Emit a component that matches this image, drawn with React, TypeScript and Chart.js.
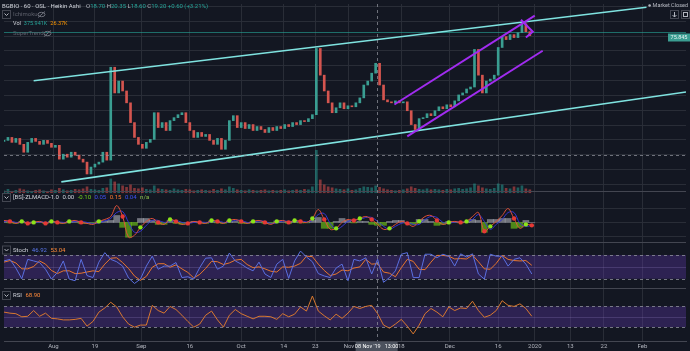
import React, { useEffect, useRef } from "react";
import { Chart, registerables } from "chart.js";

Chart.register(...registerables);

const W = 690;
const H = 351;
const AREA_H = 341;

// ---- price (Heikin Ashi closes, one bar per index) ----
const closes = [
  8.2, 8.5, 8.0, 8.4, 7.8, 7.0, 8.0, 8.4, 8.1, 7.8,
  8.2, 7.9, 7.5, 7.7, 6.3, 6.8, 6.5, 7.0, 6.7, 6.3,
  6.0, 4.8, 5.5, 5.8, 6.0, 7.0, 6.2, 15.6, 13.0, 14.2,
  13.2, 12.0, 10.0, 8.5, 7.8, 7.4, 8.0, 8.3, 11.0, 9.5,
  10.0, 9.2, 10.2, 10.5, 10.8, 11.0, 10.0, 9.2, 8.5, 9.0,
  8.6, 8.8, 8.2, 7.8, 8.4, 7.3, 8.2, 10.2, 10.7, 9.5,
  10.0, 9.4, 9.8, 9.2, 9.6, 9.3, 9.0, 9.5, 9.2, 9.6,
  9.4, 9.8, 9.6, 10.0, 9.8, 10.2, 10.1, 10.4, 10.8, 17.5,
  14.8, 13.2, 12.0, 11.0, 11.5, 12.0, 11.4, 11.7, 11.6, 12.0,
  12.5, 13.8, 14.2, 15.0, 16.0, 13.8, 12.3, 12.1, 12.0, 12.2,
  12.0, 12.1, 11.2, 9.8, 9.3, 10.4, 10.5, 10.9, 10.7, 11.2,
  11.6, 11.4, 11.8, 11.6, 12.2, 12.8, 13.0, 13.4, 13.6, 17.4,
  14.8, 13.0, 14.2, 14.4, 14.8, 17.6, 18.7, 18.4, 18.9, 18.6,
  19.1, 20.0, 19.2, 18.8,
];

// ---- volume (K) ----
const volumes = [
  20, 35, 15, 25, 40, 30, 20, 15, 25, 30,
  20, 15, 30, 25, 45, 30, 20, 25, 35, 30,
  40, 60, 35, 30, 25, 45, 50, 140, 110, 90,
  70, 55, 80, 45, 40, 50, 35, 30, 70, 40,
  35, 30, 25, 40, 30, 25, 35, 30, 20, 25,
  30, 25, 20, 35, 25, 40, 30, 60, 45, 30,
  25, 20, 30, 25, 20, 25, 30, 20, 25, 20,
  25, 30, 20, 25, 30, 25, 35, 30, 60, 430,
  130, 80, 60, 50, 40, 35, 30, 40, 25, 30,
  45, 60, 55, 50, 70, 55, 40, 30, 25, 20,
  25, 30, 40, 60, 45, 35, 30, 40, 30, 35,
  30, 25, 35, 30, 40, 45, 35, 40, 50, 90,
  70, 50, 40, 35, 45, 90, 80, 45, 40, 60,
  50, 70, 40, 30,
];

// ---- oscillators, sampled every 1.5 bars ----
const OSC_STEP = 1.5;

const macdLine = [
  2, 1, -1, 1, -1, 0, 1, -1, 1, 0,
  -1, 1, 2, 0, -1, -2, 1, 3, 6, 17,
  6, -15, -13, -5, 1, 4, 0, -2, 3, 1,
  -2, -1, 1, 0, -1, 2, 1, -1, 2, 3,
  1, -1, 1, 2, 0, -2, 1, 2, 0, 2,
  1, 0, 4, 13, 3, -7, -6, 0, 3, 2,
  4, 6, 3, -2, -7, -6, -2, 1, -1, -4,
  1, 6, 7, 2, -2, 0, 1, 0, 1, 6,
  10, -9, -4, 1, 7, 14, 4, -6, -2, -3,
];

const signalLine = [
  1, 1.5, 0, 0, 0, -0.5, 0.5, 0, 0, 0.5,
  0, 0, 1, 1, 0, -1, -0.5, 1.5, 4, 10,
  11, 0, -10, -9, -3, 2, 2, 0, 1, 2,
  0, -1, 0, 0.5, 0, 0.5, 1.5, 0, 0.5, 2,
  2, 0, 0, 1.5, 1, -1, -0.5, 1.5, 1, 1,
  1.5, 0.5, 2, 8, 9, -1, -7, -4, 1, 2.5,
  3, 5, 5, 1, -4, -7, -4, -1, 0, -2,
  -2, 3, 6, 5, 0, -1, 0.5, 0.5, 0.5, 3,
  8, 1, -7, -2, 3, 10, 10, -1, -4, -3,
];

const stochK = [
  65, 69, 47, 20, 69, 65, 61, 44, 19, 36,
  65, 19, 15, 69, 28, 23, 62, 86, 69, 63,
  52, 22, 8, 19, 52, 77, 44, 52, 52, 61,
  23, 25, 19, 48, 72, 73, 44, 52, 85, 65,
  57, 47, 40, 62, 32, 23, 57, 69, 21, 65,
  90, 75, 63, 33, 27, 23, 47, 57, 15, 69,
  65, 73, 32, 69, 11, 23, 40, 82, 86, 23,
  23, 82, 82, 73, 82, 77, 52, 83, 75, 83,
  32, 19, 82, 77, 77, 52, 69, 73, 57, 32,
];

const stochD = [
  62, 66, 60, 45, 45, 51, 65, 57, 41, 33,
  40, 40, 33, 34, 37, 40, 38, 57, 72, 73,
  61, 46, 27, 16, 26, 49, 58, 58, 49, 55,
  45, 36, 22, 31, 46, 64, 63, 56, 60, 67,
  69, 56, 48, 50, 45, 39, 37, 50, 49, 52,
  59, 77, 76, 57, 41, 28, 32, 42, 40, 47,
  50, 69, 57, 58, 37, 34, 25, 48, 69, 64,
  44, 43, 62, 79, 79, 77, 70, 71, 70, 80,
  63, 45, 44, 59, 79, 69, 66, 65, 66, 54,
];

const rsiValues = [
  59, 57, 56, 50, 51, 62, 51, 57, 47, 46,
  44, 44, 45, 47, 32, 41, 59, 67, 78, 69,
  50, 36, 30, 34, 34, 72, 62, 57, 70, 64,
  53, 41, 30, 36, 53, 61, 44, 30, 53, 64,
  56, 51, 46, 51, 51, 50, 45, 56, 50, 55,
  69, 61, 90, 61, 52, 44, 55, 47, 57, 70,
  66, 70, 72, 56, 34, 28, 36, 45, 32, 17,
  34, 56, 66, 59, 50, 69, 62, 67, 66, 80,
  62, 49, 53, 62, 81, 72, 70, 75, 66, 51,
];

// ---- time axis ----
const X_MAX = 172.5;
const tickPos = [12.5, 23, 34.75, 47, 60, 70.75, 78.75, 87.25, 100.5, 112.75, 125, 134.25, 143.25, 151.75, 161.5];
const tickLabels = ["Aug", "19", "Sep", "16", "Oct", "14", "23", "Nov", "18", "Dec", "16", "2020", "13", "22", "Feb"];

// ---- drawings (bar index, price) ----
const cyanUpper = [{ x: 7.5, y: 14.23 }, { x: 162.5, y: 21.67 }];
const cyanLower = [{ x: 14.5, y: 4.0 }, { x: 172.5, y: 13.1 }];
const purpleUpper = [{ x: 98.75, y: 11.83 }, { x: 134.25, y: 20.83 }];
const purpleLower = [{ x: 102, y: 8.6 }, { x: 136.25, y: 17.27 }];
const purpleMark = [{ x: 130.75, y: 20.4 }, { x: 133.75, y: 19.2 }, { x: 132, y: 18.6 }];
const lastPrice = 19.2;
const crossX = 94.25;
const crossPrice = 6.7;

const BG = "#131722";
const GRID = "rgba(42,46,57,0.95)";
const SEP = "#434651";
const BAND = "rgba(103,58,183,0.32)";
const TEAL = "#26a69a";
const FONT = "Roboto";

function fit(value: number, px: number, perPx: number) {
  return { max: value + px * perPx, min: value - (AREA_H - px) * perPx };
}

function seq(ctx: CanvasRenderingContext2D, x: number, y: number, parts: [string, string][], gap = 0) {
  let cx = x;
  for (const [t, c] of parts) {
    ctx.fillStyle = c;
    ctx.fillText(t, cx, y);
    cx += ctx.measureText(t).width + gap;
  }
  return cx;
}

function chevronBox(ctx: CanvasRenderingContext2D, x: number, y: number) {
  ctx.strokeStyle = "#434651";
  ctx.lineWidth = 1;
  ctx.strokeRect(x + 0.5, y + 0.5, 8, 8);
  ctx.strokeStyle = "#b2b5be";
  ctx.beginPath();
  ctx.moveTo(x + 2.5, y + 3.5);
  ctx.lineTo(x + 4.5, y + 5.5);
  ctx.lineTo(x + 6.5, y + 3.5);
  ctx.stroke();
}

function eyeOff(ctx: CanvasRenderingContext2D, x: number, y: number) {
  ctx.strokeStyle = "#6a6d78";
  ctx.lineWidth = 1;
  ctx.beginPath();
  ctx.ellipse(x, y, 3.5, 2.2, 0, 0, Math.PI * 2);
  ctx.stroke();
  ctx.beginPath();
  ctx.moveTo(x - 3.5, y + 3);
  ctx.lineTo(x + 3.5, y - 3);
  ctx.stroke();
}

const panePlugin = {
  id: "panes",
  beforeDraw(chart: any) {
    const ctx = chart.ctx as CanvasRenderingContext2D;
    ctx.save();
    ctx.fillStyle = BG;
    ctx.fillRect(0, 0, chart.width, chart.height);
    ctx.restore();
  },
  beforeDatasetsDraw(chart: any) {
    const ctx = chart.ctx as CanvasRenderingContext2D;
    const a = chart.chartArea;
    const s = chart.scales;
    ctx.save();
    const hline = (y: number, color: string, dash: number[] = []) => {
      ctx.strokeStyle = color;
      ctx.lineWidth = 1;
      ctx.setLineDash(dash);
      ctx.beginPath();
      ctx.moveTo(a.left, Math.round(y) + 0.5);
      ctx.lineTo(a.right, Math.round(y) + 0.5);
      ctx.stroke();
      ctx.setLineDash([]);
    };
    for (let p = 21.8; p > 3.2; p -= 1.5) hline(s.yMain.getPixelForValue(p), GRID);
    for (const v of [15, 0, -14]) hline(s.yMacd.getPixelForValue(v), GRID);
    const band = (id: string, hi: number, lo: number) => {
      const y1 = s[id].getPixelForValue(hi);
      const y2 = s[id].getPixelForValue(lo);
      ctx.fillStyle = BAND;
      ctx.fillRect(a.left, y1, a.right - a.left, y2 - y1);
      hline(y1, "rgba(150,152,161,0.75)", [3, 3]);
      hline(y2, "rgba(150,152,161,0.75)", [3, 3]);
      hline(s[id].getPixelForValue((hi + lo) / 2), "rgba(150,130,200,0.25)");
    };
    band("yStoch", 80, 20);
    band("yRsi", 70, 30);
    hline(s.yMain.getPixelForValue(lastPrice), "rgba(38,166,154,0.6)");
    ctx.restore();
  },
  afterDatasetsDraw(chart: any) {
    const ctx = chart.ctx as CanvasRenderingContext2D;
    const a = chart.chartArea;
    const s = chart.scales;
    ctx.save();
    ctx.strokeStyle = SEP;
    ctx.lineWidth = 1;
    for (const y of [191.5, 242.5, 288.5]) {
      ctx.beginPath();
      ctx.moveTo(a.left, y);
      ctx.lineTo(a.right, y);
      ctx.stroke();
    }
    ctx.strokeStyle = "rgba(149,152,161,0.7)";
    ctx.setLineDash([3, 3]);
    const cx = Math.round(s.x.getPixelForValue(crossX)) + 0.5;
    ctx.beginPath();
    ctx.moveTo(cx, a.top);
    ctx.lineTo(cx, a.bottom);
    ctx.stroke();
    const cy = Math.round(s.yMain.getPixelForValue(crossPrice)) + 0.5;
    ctx.beginPath();
    ctx.moveTo(a.left, cy);
    ctx.lineTo(a.right, cy);
    ctx.stroke();
    ctx.setLineDash([]);
    ctx.restore();
  },
  afterDraw(chart: any) {
    const ctx = chart.ctx as CanvasRenderingContext2D;
    const s = chart.scales;
    ctx.save();
    ctx.textBaseline = "middle";
    ctx.font = `6px ${FONT}`;
    seq(ctx, 2, 6, [["BGBIO · 60 · OSL · Heikin Ashi", "#d1d4dc"]]);
    seq(ctx, 86, 6, [
      ["O", "#b2b5be"], ["18.70 ", TEAL],
      ["H", "#b2b5be"], ["20.35 ", TEAL],
      ["L", "#b2b5be"], ["18.60 ", TEAL],
      ["C", "#b2b5be"], ["19.20 ", TEAL],
      ["+0.60 (+3.21%)", TEAL],
    ]);
    chevronBox(ctx, 2, 10);
    seq(ctx, 13, 14.5, [["Ichimoku", "#5d606b"]]);
    eyeOff(ctx, 41.5, 14.5);
    ctx.font = `5.5px ${FONT}`;
    seq(ctx, 13, 24, [["Vol", "#d1d4dc"], ["375.941K", TEAL], ["26.37K", "#ff9800"]], 3);
    ctx.font = `6px ${FONT}`;
    seq(ctx, 13, 33.5, [["SuperTrend", "#5d606b"]]);
    eyeOff(ctx, 47.5, 33.5);
    chevronBox(ctx, 2, 193);
    seq(ctx, 13, 197.5, [
      ["[BS]-ZLMACD-1.0", "#d1d4dc"], ["0.00", "#d1d4dc"],
      ["-0.10", "#76d11a"], ["0.05", "#3f51f5"], ["0.15", "#ff7a2e"],
      ["0.04", "#3f51f5"], ["n/a", "#8bc34a"],
    ], 3.5);
    chevronBox(ctx, 2, 245.5);
    seq(ctx, 13, 250, [["Stoch", "#d1d4dc"], ["46.92", "#5b78f0"], ["53.04", "#ff8a3a"]], 3.5);
    chevronBox(ctx, 2, 291);
    seq(ctx, 13, 295.5, [["RSI", "#d1d4dc"], ["68.90", "#ff8a3a"]], 3.5);
    // top right
    ctx.font = `5.5px ${FONT}`;
    ctx.textAlign = "right";
    ctx.fillStyle = "#b2b5be";
    ctx.fillText("Market Closed", 688, 5.5);
    const mw = ctx.measureText("Market Closed").width;
    ctx.beginPath();
    ctx.arc(688 - mw - 3, 5.5, 1.3, 0, Math.PI * 2);
    ctx.fill();
    ctx.textAlign = "left";
    ctx.strokeStyle = "#434651";
    ctx.strokeRect(670.5, 10.5, 8, 8);
    ctx.strokeRect(681.5, 10.5, 8, 8);
    ctx.strokeStyle = "#b2b5be";
    ctx.beginPath();
    ctx.moveTo(674.5, 12); ctx.lineTo(674.5, 17);
    ctx.moveTo(672.5, 15); ctx.lineTo(674.5, 17); ctx.lineTo(676.5, 15);
    ctx.stroke();
    ctx.strokeRect(683.5, 12.5, 4, 4);
    // price label
    const py = 37.5;
    ctx.fillStyle = "#3b9e92";
    ctx.fillRect(668, py - 4, 22, 8);
    ctx.fillStyle = "#e8f5f3";
    ctx.textAlign = "center";
    ctx.fillText("75.845", 679, py);
    // crosshair time label
    const cx = s.x.getPixelForValue(crossX);
    ctx.fillStyle = "#4c525e";
    ctx.fillRect(cx - 21, 342, 42, 9);
    ctx.fillStyle = "#ffffff";
    ctx.font = `5.5px ${FONT}`;
    ctx.fillText("08 Nov '19   13:00", cx, 346.5);
    ctx.restore();
  },
};

export default function App() {
  const ref = useRef<HTMLCanvasElement>(null);
  useEffect(() => {
    document.body.style.margin = "0";
    document.body.style.background = BG;
    const canvas = ref.current!;

    const candleData = closes.map((c, i) => ({ x: i, y: [i > 0 ? closes[i - 1] : c - 0.1, c] }));
    const candleColors = closes.map((c, i) => (i === 0 || c >= closes[i - 1] ? "#3a9e92" : "#d4554f"));
    const volData = volumes.map((v, i) => ({ x: i, y: v }));
    const volColors = closes.map((c, i) =>
      i === 0 || c >= closes[i - 1] ? "rgba(38,166,154,0.5)" : "rgba(239,83,80,0.5)"
    );
    const osc = (arr: number[]) => arr.map((v, i) => ({ x: i * OSC_STEP, y: v }));
    const hist = macdLine.map((m, i) => ({ x: i * OSC_STEP, y: m - signalLine[i] }));
    const dots: { x: number; y: number }[] = [];
    const dotColors: string[] = [];
    for (let i = 1; i < macdLine.length; i++) {
      const d0 = macdLine[i - 1] - signalLine[i - 1];
      const d1 = macdLine[i] - signalLine[i];
      if ((d0 > 0 && d1 <= 0) || (d0 < 0 && d1 >= 0)) {
        dots.push({ x: i * OSC_STEP, y: macdLine[i] });
        dotColors.push(d1 <= 0 ? "#e53935" : "#8be31a");
      }
    }

    const trend = (data: any, color: string, width: number) => ({
      type: "line" as const,
      data,
      yAxisID: "yMain",
      borderColor: color,
      borderWidth: width,
      pointRadius: 0,
      tension: 0,
    });

    const chart = new Chart(canvas, {
      type: "line",
      data: {
        datasets: [
          trend(purpleUpper, "#a12cf0", 2),
          trend(purpleLower, "#a12cf0", 2),
          trend(purpleMark, "#a12cf0", 2),
          trend(cyanUpper, "#7fe3e0", 1.6),
          trend(cyanLower, "#7fe3e0", 1.6),
          {
            type: "bar",
            data: candleData as any,
            yAxisID: "yMain",
            backgroundColor: candleColors,
            barThickness: 2,
            grouped: false,
          } as any,
          {
            type: "bar",
            data: volData,
            yAxisID: "yVol",
            backgroundColor: volColors,
            barThickness: 2,
            grouped: false,
          } as any,
          {
            type: "line",
            data: dots,
            yAxisID: "yMacd",
            showLine: false,
            pointRadius: 2.2,
            pointBorderWidth: 0,
            pointBackgroundColor: dotColors,
          } as any,
          {
            type: "line",
            data: osc(macdLine),
            yAxisID: "yMacd",
            borderColor: "#e0503a",
            borderWidth: 1,
            pointRadius: 0,
            tension: 0.35,
          },
          {
            type: "line",
            data: osc(signalLine),
            yAxisID: "yMacd",
            borderColor: "#3535d0",
            borderWidth: 1,
            pointRadius: 0,
            tension: 0.35,
          },
          {
            type: "bar",
            data: hist,
            yAxisID: "yMacd",
            backgroundColor: hist.map((h) => (h.y >= 0 ? "rgba(190,192,200,0.55)" : "rgba(118,210,20,0.6)")),
            barThickness: 6,
            grouped: false,
          } as any,
          {
            type: "line",
            data: osc(stochK),
            yAxisID: "yStoch",
            borderColor: "#5a6fe0",
            borderWidth: 1,
            pointRadius: 0,
            tension: 0,
          },
          {
            type: "line",
            data: osc(stochD),
            yAxisID: "yStoch",
            borderColor: "#e8762c",
            borderWidth: 1,
            pointRadius: 0,
            tension: 0,
          },
          {
            type: "line",
            data: osc(rsiValues),
            yAxisID: "yRsi",
            borderColor: "#d8782f",
            borderWidth: 1,
            pointRadius: 0,
            tension: 0,
          },
        ],
      },
      options: {
        animation: false,
        responsive: false,
        maintainAspectRatio: false,
        events: [],
        layout: { padding: 0 },
        plugins: { legend: { display: false }, tooltip: { enabled: false } },
        scales: {
          x: {
            type: "linear",
            min: 0,
            max: X_MAX,
            offset: false,
            grid: { color: GRID, drawTicks: false, offset: false },
            border: { color: SEP },
            ticks: {
              autoSkip: false,
              maxRotation: 0,
              minRotation: 0,
              color: "#b2b5be",
              padding: 2,
              font: { size: 6, family: FONT },
              callback: (_v: any, i: number) => tickLabels[i] ?? "",
            },
            afterBuildTicks: (sc: any) => {
              sc.ticks = tickPos.map((v) => ({ value: v }));
            },
            afterFit: (sc: any) => {
              sc.height = H - AREA_H;
            },
          },
          yMain: { type: "linear", display: false, ...fit(22, 0, 0.1) },
          yVol: { type: "linear", display: false, ...fit(0, 191, 10) },
          yMacd: { type: "linear", display: false, ...fit(0, 221, 1) },
          yStoch: { type: "linear", display: false, ...fit(80, 254, 2.5) },
          yRsi: { type: "linear", display: false, ...fit(70, 306, 40 / 21) },
        },
      } as any,
      plugins: [panePlugin],
    });
    return () => chart.destroy();
  }, []);

  return (
    <div style={{ width: W, height: H }}>
      <canvas ref={ref} width={W} height={H} style={{ display: "block", width: W, height: H }} />
    </div>
  );
}
